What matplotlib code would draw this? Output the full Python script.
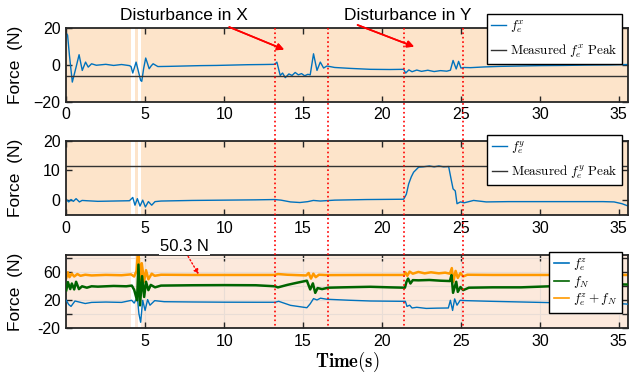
import numpy as np
import matplotlib
matplotlib.use('Agg')
import matplotlib.pyplot as plt
from matplotlib.lines import Line2D
from matplotlib import transforms

plt.rcParams['mathtext.fontset'] = 'cm'
plt.rcParams['font.family'] = ['Liberation Sans', 'DejaVu Sans']

# ---- data (time s, force N) ----
fex_pts = [(0, 17), (0.08, 16), (0.2, 5), (0.38, -9.4), (0.6, -2), (0.81, 5.4), (1.01, -3.1),
           (1.22, 1.4), (1.39, -1.3), (1.6, 0.5), (1.9, -0.3), (2.5, 0.2), (3.0, -0.4), (3.5, 0.1),
           (4.0, -0.5), (4.1, -1), (4.21, -4.5), (4.3, -2.0), (4.42, 1.4), (4.55, -3), (4.71, -8.5),
           (4.78, -9), (4.9, -2), (5.03, 3.6), (5.15, 0.5), (5.25, -2.2), (5.38, -0.6), (5.5, 0.5),
           (5.8, -1), (6.5, -0.9), (7.5, -0.7), (8.5, -0.5), (9.5, -0.4), (10.5, -0.2), (11.5, 0),
           (12.5, 0.1), (13.2, 0.2), (13.34, 1.4), (13.55, -5.8), (13.7, -4.5), (13.87, -7),
           (14.1, -5), (14.3, -5.8), (14.5, -4.2), (14.7, -5.5), (14.9, -4.8), (15.1, -6),
           (15.3, -5.2), (15.45, -5.5), (15.66, 5.9), (15.88, -3.1), (16.09, 1.4), (16.3, -1.8),
           (16.51, -0.7), (17.0, -1.5), (18.0, -2), (19.26, -2.5), (20.5, -2.6), (21.37, -2.5),
           (21.5, -4.5), (21.7, -2.8), (21.9, -3.8), (22.2, -2.9), (22.5, -3.6), (22.9, -3.0),
           (23.3, -3.7), (23.7, -3.2), (24.1, -3.5), (24.33, -3.0), (24.5, 2.3), (24.7, -2.3),
           (24.85, 1.8), (25.0, -1.8), (25.2, -1.5), (25.6, -1.6), (26.5, -1.2), (27.5, -0.9),
           (28.77, -0.7), (30, -0.5), (31.5, -0.4), (33, -0.2), (34.5, -0.1), (35.6, 0.1)]
fex_peak = -6.3

fey_pts = [(0, 0.3), (0.15, -0.6), (0.3, 0.2), (0.45, -0.4), (0.62, 0.5), (0.83, -0.6), (1.0, -0.1),
           (1.3, -0.2), (2, -0.4), (3, -0.3), (4.0, -0.2), (4.21, 0.9), (4.35, -1.7), (4.5, 0.5),
           (4.67, -2.0), (4.84, 0.0), (5.01, -2.3), (5.2, -0.5), (5.41, -1.7), (5.62, -0.5),
           (6, -0.3), (8, -0.1), (10, 0.0), (12, 0.1), (13.2, 0.2), (13.6, 0.0), (14.2, -0.6),
           (14.8, -0.8), (15.3, -0.5), (15.65, -0.1), (16.09, -0.3), (17, 0), (19, 0.2),
           (21.37, 0.3), (21.54, 2.0), (21.69, 5.5), (21.85, 7.8), (22.0, 9.4), (22.32, 11.1),
           (22.6, 11.2), (23.0, 11.5), (23.3, 11.2), (23.6, 11.5), (23.9, 11.2), (24.22, 11.3),
           (24.37, 7.2), (24.5, 3.8), (24.64, 3.1), (24.75, -1.2), (24.97, -0.6), (25.2, -0.9),
           (25.8, -0.1), (26.6, -0.6), (28, -0.5), (30, -0.5), (32, -0.5), (34.0, -0.5),
           (34.7, -0.6), (35.2, -1.2), (35.6, -2.0)]
fey_peak = 11.4

fez_pts = [(0, 20), (0.15, 14), (0.3, 11.3), (0.55, 19), (0.8, 17.6), (1.2, 15.4), (1.6, 17),
           (2.5, 17.5), (3.5, 17), (4.14, 20), (4.3, 16), (4.5, 24.8), (4.6, 0.7), (4.71, -11.4),
           (4.84, 20), (4.99, 5.5), (5.15, 21), (5.3, 13), (5.6, 19.5), (6.2, 18), (8, 17.6),
           (10, 17.3), (12, 17.2), (13.23, 17.2), (13.45, 18.6), (14.2, 12.8), (15.24, 9.4),
           (15.45, 15), (15.66, 22.4), (15.88, 20.5), (16.1, 23), (16.5, 21.5), (18, 20),
           (19.26, 19), (21.48, 18.5), (21.58, 11.3), (21.75, 13), (21.9, 9), (22.2, 10),
           (22.8, 8.4), (23.5, 8.8), (24.2, 9), (24.33, 20), (24.47, 5.5), (24.6, 22),
           (24.75, 13), (24.95, 20), (25.3, 19.5), (27, 18.5), (28.8, 17.6), (31, 16.5),
           (33, 16), (35.1, 15.2), (35.6, 14.5)]

fN_pts = [(0, 34.5), (0.1, 46), (0.25, 36), (0.35, 44), (0.5, 35.5), (0.62, 46.5), (0.8, 36),
          (1.0, 40), (1.3, 38), (1.6, 40), (2.0, 39.5), (3.0, 40.5), (3.8, 40), (4.15, 41),
          (4.3, 35), (4.48, 20), (4.57, 71), (4.67, 12.8), (4.8, 54.5), (4.93, 24.8), (5.05, 46.5),
          (5.2, 34.5), (5.35, 42), (5.62, 38.5), (6.0, 41), (8, 41.5), (10, 41.7), (12, 41.5),
          (13.23, 40), (13.4, 38.4), (14.0, 42), (14.6, 45), (15.24, 48), (15.45, 35.5),
          (15.62, 44.2), (15.77, 30.6), (15.92, 37.5), (16.2, 36), (16.6, 38), (17.5, 38.5),
          (19.26, 39.3), (20.5, 38.5), (21.45, 38), (21.55, 46.5), (21.65, 51), (21.8, 44),
          (21.95, 48.8), (22.3, 48.5), (23, 49), (23.7, 48), (24.3, 47.5), (24.4, 56),
          (24.5, 30.7), (24.7, 46.5), (24.8, 32), (24.97, 39), (25.14, 34.5), (25.5, 38),
          (27, 38.5), (28.8, 38.5), (31, 40.3), (33, 41.5), (35.1, 42.7), (35.6, 42.5)]

fsum_pts = [(0, 52), (0.1, 60), (0.2, 53), (0.35, 58), (0.5, 54), (0.7, 57.5), (0.9, 55),
            (1.2, 56.5), (1.6, 55.5), (2.5, 56.3), (3.5, 55.8), (4.1, 57), (4.3, 54), (4.45, 62),
            (4.57, 100), (4.67, 39), (4.78, 73), (4.93, 46.6), (5.05, 63), (5.2, 50), (5.41, 58),
            (5.6, 55), (6, 56.5), (8, 56.2), (10, 56.2), (12, 56.2), (13.2, 56.2), (13.4, 57.5),
            (14, 56.5), (15.2, 55.5), (15.35, 59), (15.5, 51), (15.65, 58), (15.8, 53),
            (16.0, 56.5), (16.5, 56), (19, 56.2), (21.4, 56.2), (21.48, 60), (21.6, 55),
            (21.75, 61), (21.95, 58), (22.3, 60.5), (22.7, 58.5), (23.1, 60), (23.6, 58.5),
            (24.0, 59.5), (24.3, 58), (24.42, 66), (24.52, 46.5), (24.66, 62), (24.8, 52),
            (24.97, 59), (25.14, 54), (25.4, 56.5), (27, 56.2), (30, 56.2), (33, 56.2), (35.6, 56.2)]

disturb_t = [13.19, 16.55, 21.37, 25.11]   # red dotted markers
gaps = [(4.08, 4.36), (4.57, 4.76)]        # white gaps in the shaded background
t_end = 35.6

BLUE = '#0072BD'
GREEN = '#006400'
ORANGE = '#FF9900'
PEACH = '#FDE4CA'
PEACH2 = '#FCE9DC'

fig = plt.figure(figsize=(6.41, 3.77), dpi=100)
W, H = 641, 377
def ax_at(top, bot):
    return fig.add_axes([66.3 / W, 1 - bot / H, 562 / W, (bot - top) / H])

ax1 = ax_at(27.7, 101.7)
ax2 = ax_at(140.7, 215)
ax3 = ax_at(255, 328.3)

def shade(ax, color):
    edges = [0] + [v for g in gaps for v in g] + [t_end]
    for a, b in zip(edges[0::2], edges[1::2]):
        ax.axvspan(a, b, color=color, lw=0, zorder=0)

def style(ax):
    ax.set_xlim(0, t_end)
    ax.tick_params(direction='in', top=True, right=True, length=4, width=1,
                   labelsize=11.5, color='#262626', pad=4)
    for s in ax.spines.values():
        s.set_linewidth(1.3)
        s.set_color('#262626')
    ax.set_ylabel('Force  (N)', fontsize=12.5)
    ax.yaxis.set_label_coords(-0.077, 0.5)

# top
a = np.array(fex_pts).T
shade(ax1, PEACH)
ax1.plot(a[0], a[1], color=BLUE, lw=1.0, label=r'$f_e^x$')
ax1.axhline(fex_peak, color='#333333', lw=1.0, label=r'$\mathrm{Measured}\ f_e^x\ \mathrm{Peak}$')
ax1.set_ylim(-20, 20)
ax1.set_yticks([-20, 0, 20])
ax1.set_xticks(np.arange(0, 36, 5))
style(ax1)

# middle
a = np.array(fey_pts).T
shade(ax2, PEACH)
ax2.plot(a[0], a[1], color=BLUE, lw=1.0, label=r'$f_e^y$')
ax2.axhline(fey_peak, color='#333333', lw=1.0, label=r'$\mathrm{Measured}\ f_e^y\ \mathrm{Peak}$')
ax2.set_ylim(-5, 20)
ax2.set_yticks([0, 10, 20])
ax2.set_xticks(np.arange(0, 36, 5))
style(ax2)

# bottom
shade(ax3, PEACH2)
ax3.set_axisbelow(True)
ax3.grid(True, color='#E9DDD6', lw=0.8)
a = np.array(fez_pts).T
ax3.plot(a[0], a[1], color=BLUE, lw=1.0, zorder=3)
a = np.array(fN_pts).T
ax3.plot(a[0], a[1], color=GREEN, lw=1.8, zorder=3)
a = np.array(fsum_pts).T
ax3.plot(a[0], a[1], color=ORANGE, lw=1.8, zorder=2)
ax3.set_ylim(-20, 84.7)
ax3.set_yticks([-20, 0, 20, 40, 60, 80])
ax3.set_yticklabels(['-20', '', '20', '', '60', ''])
ax3.set_xticks(np.arange(5, 36, 5))
style(ax3)
ax3.set_xlabel(r'$\mathbf{Time(s)}$', fontsize=13.5, labelpad=1)

leg_kw = dict(loc='upper right', fancybox=False, framealpha=1, edgecolor='black',
              fontsize=9.5, handlelength=1.1, handletextpad=0.3, borderpad=0.35,
              borderaxespad=0, bbox_transform=fig.transFigure)
l = ax1.legend(bbox_to_anchor=(621.7 / W, 1 - 14 / H), labelspacing=0.55, **leg_kw)
l.get_frame().set_linewidth(1.0)
l = ax2.legend(bbox_to_anchor=(621.7 / W, 1 - 135 / H), labelspacing=0.55, **leg_kw)
l.get_frame().set_linewidth(1.0)
handles = [Line2D([], [], color=BLUE, lw=1.2), Line2D([], [], color=GREEN, lw=1.2),
           Line2D([], [], color=ORANGE, lw=1.2)]
l = ax3.legend(handles, [r'$f_e^z$', r'$f_N$', r'$f_e^z + f_N$'],
               bbox_to_anchor=(621.7 / W, 1 - 251.7 / H), labelspacing=0.1, **leg_kw)
l.get_frame().set_linewidth(1.0)

# red dotted disturbance markers across all panels
tr = transforms.blended_transform_factory(ax3.transData, fig.transFigure)
for t in disturb_t:
    fig.add_artist(Line2D([t, t], [1 - 27.7 / H, 1 - 328.3 / H], transform=tr,
                          color='red', ls=':', lw=1.2, zorder=5))

# annotations
fig.text(184 / W, 1 - 16 / H, 'Disturbance in X', ha='center', va='center', fontsize=12.5)
fig.text(407.5 / W, 1 - 16 / H, 'Disturbance in Y', ha='center', va='center', fontsize=12.5)
arr = dict(arrowstyle='-|>', color='red', lw=1.2, mutation_scale=10)
fig.add_artist(plt.annotate('', xy=(286.7 / W, 1 - 50.7 / H), xytext=(226.7 / W, 1 - 26 / H),
                            xycoords='figure fraction', arrowprops=arr))
fig.add_artist(plt.annotate('', xy=(416.7 / W, 1 - 47.7 / H), xytext=(355 / W, 1 - 24 / H),
                            xycoords='figure fraction', arrowprops=arr))
fig.text(184.3 / W, 1 - 246.5 / H, '50.3 N', ha='center', va='center', fontsize=12,
         bbox=dict(facecolor='white', edgecolor='none', pad=1), zorder=6)
ax3.annotate('', xy=(200 / W, 1 - 276.7 / H), xytext=(186.7 / W, 1 - 254 / H),
             xycoords='figure fraction',
             arrowprops=dict(arrowstyle='-|>', color='red', lw=1.0, ls=':', mutation_scale=7))

fig.savefig('out.png', dpi=100)
